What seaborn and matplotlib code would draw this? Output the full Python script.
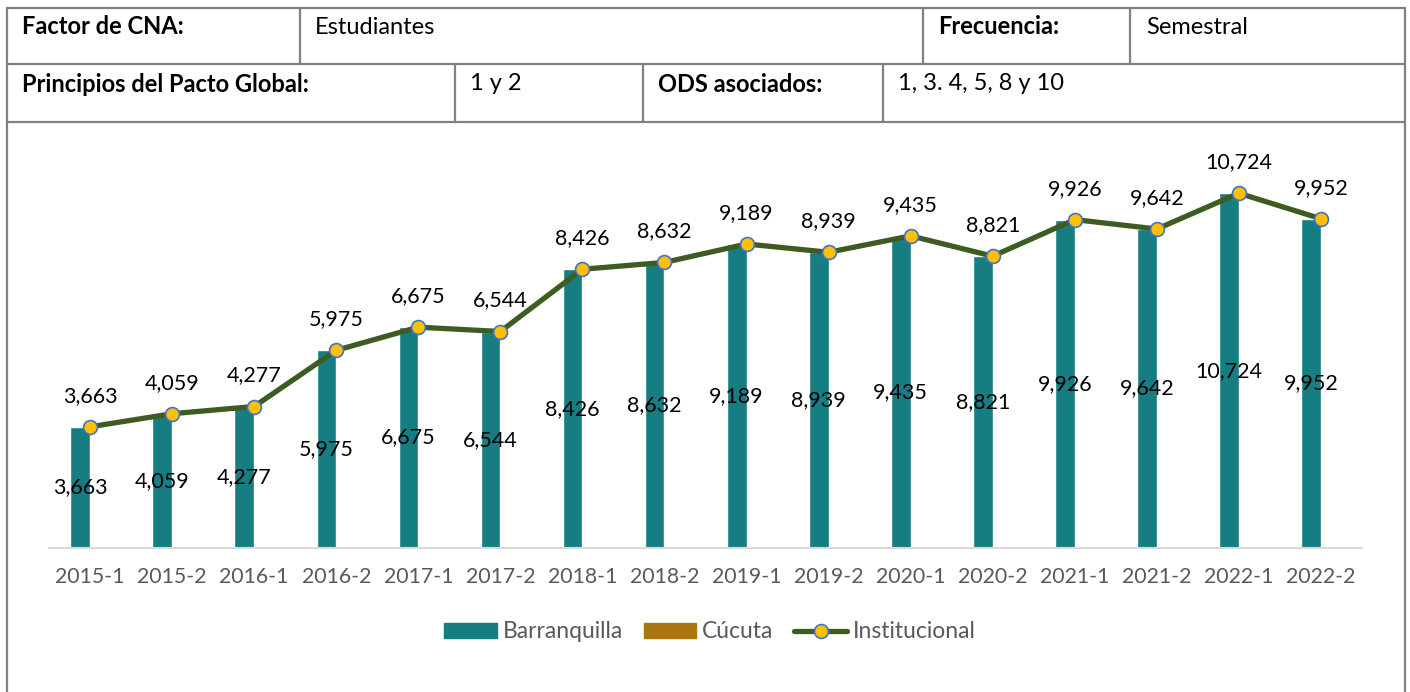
import pandas as pd
import numpy as np
import matplotlib.pyplot as plt
from matplotlib.patches import Patch
from matplotlib.lines import Line2D
import seaborn as sns

# données du graphique
periodos = ["2015-1", "2015-2", "2016-1", "2016-2", "2017-1", "2017-2", "2018-1", "2018-2",
            "2019-1", "2019-2", "2020-1", "2020-2", "2021-1", "2021-2", "2022-1", "2022-2"]
barranquilla = [3663, 4059, 4277, 5975, 6675, 6544, 8426, 8632,
                9189, 8939, 9435, 8821, 9926, 9642, 10724, 9952]
cucuta = [0] * len(periodos)
institucional = [3663, 4059, 4277, 5975, 6675, 6544, 8426, 8632,
                 9189, 8939, 9435, 8821, 9926, 9642, 10724, 9952]

# textos de la tabla
fila1 = [("Factor de CNA:", 22, True), ("Estudiantes", 315, False),
         ("Frecuencia:", 938, True), ("Semestral", 1146, False)]
fila2 = [("Principios del Pacto Global:", 22, True), ("1 y 2", 470, False),
         ("ODS asociados:", 658, True), ("1, 3. 4, 5, 8 y 10", 898, False)]

col_barr = "#167E83"
col_cuc = "#AB760F"
col_linea = "#3E5C22"
gris = "#595959"

sns.set_theme(style="white")
plt.rcParams["font.family"] = ["Lato", "DejaVu Sans"]

W, H = 1410, 692
fig = plt.figure(figsize=(W / 100, H / 100), dpi=100)

# fond : tableau
bg = fig.add_axes([0, 0, 1, 1])
bg.set_xlim(0, W)
bg.set_ylim(H, 0)
bg.axis("off")
borde = dict(color="#808080", lw=1.6)
bg.plot([7, 7], [8, H + 5], **borde)
bg.plot([1405, 1405], [8, H + 5], **borde)
for y in (8, 64, 122):
    bg.plot([7, 1405], [y, y], **borde)
for x in (300, 923, 1130):
    bg.plot([x, x], [8, 64], **borde)
for x in (455, 643, 883):
    bg.plot([x, x], [64, 122], **borde)
for txt, x, b in fila1:
    bg.text(x, 27, txt, fontsize=17, fontweight="bold" if b else "normal",
            va="center", ha="left", color="black")
for txt, x, b in fila2:
    bg.text(x, 84, txt, fontsize=17, fontweight="bold" if b else "normal",
            va="center", ha="left", color="black")

# graphique
ax = fig.add_axes([49 / W, (H - 548) / H, 1313 / W, (548 - 151) / H])
df = pd.DataFrame({
    "periodo": periodos * 2,
    "sede": ["Barranquilla"] * len(periodos) + ["Cúcuta"] * len(periodos),
    "estudiantes": barranquilla + cucuta,
})
sns.barplot(data=df, x="periodo", y="estudiantes", hue="sede",
            palette={"Barranquilla": col_barr, "Cúcuta": col_cuc},
            width=0.48, ax=ax, legend=False, saturation=1)
ax.bar_label(ax.containers[0], labels=[f"{v:,}" for v in barranquilla],
             label_type="center", fontsize=15.5, color="black")

xs = np.arange(len(periodos))
sns.lineplot(x=xs, y=institucional, ax=ax, color=col_linea, lw=3.8,
             marker="o", markersize=10, markerfacecolor="#FFC000",
             markeredgecolor="#4472C4", markeredgewidth=1.2)
for x, v in zip(xs, institucional):
    ax.annotate(f"{v:,}", (x, v), xytext=(0, 31), textcoords="offset pixels",
                ha="center", va="center", fontsize=15.5, color="black")

ax.set_xlim(-0.5, len(periodos) - 0.5)
ax.set_ylim(0, 12000)
ax.set_xlabel("")
ax.set_ylabel("")
ax.set_yticks([])
ax.tick_params(axis="x", length=0, pad=14, labelsize=15.3, labelcolor=gris)
sns.despine(ax=ax, left=True)
ax.spines["bottom"].set_color("#D9D9D9")
ax.spines["bottom"].set_linewidth(1.5)
ax.patch.set_alpha(0)

handles = [Patch(color=col_barr), Patch(color=col_cuc),
           Line2D([], [], color=col_linea, lw=3.8, marker="o", markersize=10,
                  markerfacecolor="#FFC000", markeredgecolor="#4472C4", markeredgewidth=1.2)]
fig.legend(handles, ["Barranquilla", "Cúcuta", "Institucional"], ncol=3,
           loc="center", bbox_to_anchor=(710 / W, 1 - 632 / H), frameon=False,
           fontsize=16.5, labelcolor=gris, handlelength=2.3, handleheight=0.6,
           handletextpad=0.25, columnspacing=0.9)

fig.savefig("out.png", dpi=100)
